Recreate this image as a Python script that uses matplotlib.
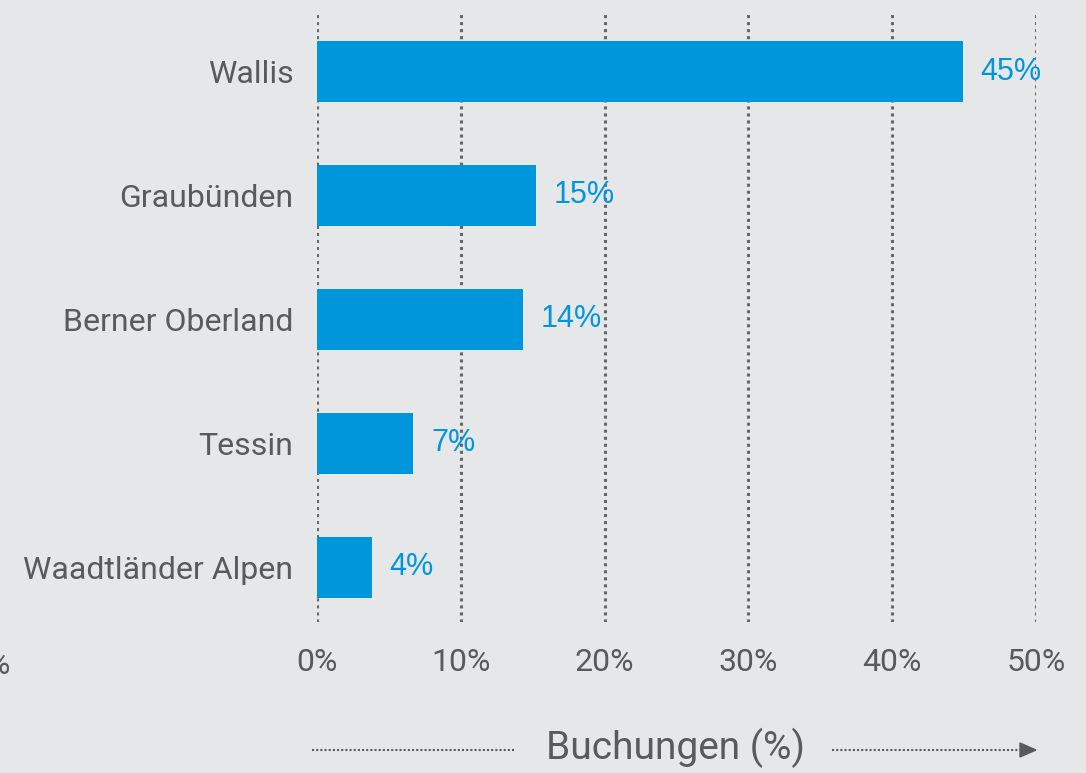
import matplotlib
matplotlib.use("Agg")
import matplotlib.pyplot as plt

regions = ["Wallis", "Graubünden", "Berner Oberland", "Tessin", "Waadtländer Alpen"]
values = [44.9, 15.2, 14.3, 6.7, 3.8]
labels = ["45%", "15%", "14%", "7%", "4%"]
xticks = [0, 10, 20, 30, 40, 50]
xticklabels = ["0%", "10%", "20%", "30%", "40%", "50%"]

BG = "#e6e7e9"
BAR = "#0096dc"
GREY = "#5a5a5a"

W, H = 1086, 773
fig = plt.figure(figsize=(W / 100, H / 100), dpi=100, facecolor=BG)
ax = fig.add_axes([317 / W, 1 - 622 / H, (1036 - 317) / W, (622 - 12) / H])
ax.set_facecolor(BG)

ypos = list(range(len(regions)))
ax.barh(ypos, values, height=0.49, color=BAR, zorder=2)
ax.set_ylim(len(regions) - 1 + 0.44, -0.48)
ax.set_xlim(0, 50)

for y, v, lab in zip(ypos, values, labels):
    ax.text(v + 1.25, y, lab, color=BAR, fontsize=22, va="center", ha="left",
            family="Liberation Sans", zorder=3)

ax.set_yticks(ypos)
ax.set_yticklabels(regions, fontsize=23, color=GREY, family="Roboto")
ax.set_xticks(xticks)
ax.set_xticklabels(xticklabels, fontsize=23, color=GREY, family="Roboto")
ax.tick_params(axis="both", length=0)
ax.tick_params(axis="y", pad=17)
ax.tick_params(axis="x", pad=19)
for s in ax.spines.values():
    s.set_visible(False)
for x in xticks:
    ax.axvline(x, color="#666666", lw=2.2, ls=(0, (1, 1.3)), zorder=1)

# clipped label fragment at the far left edge (as in the reference)
fig.text(-14 / W, 1 - 665 / H, "%", fontsize=23, color=GREY, family="Roboto", va="center", ha="left")

# axis title with dotted arrow lines
fig.text(676 / W, 1 - 748 / H, "Buchungen (%)", fontsize=28, color=GREY,
         family="Roboto", ha="center", va="center")
fig.add_artist(plt.Line2D([312 / W, 515 / W], [1 - 750 / H, 1 - 750 / H],
                          transform=fig.transFigure, color=GREY, lw=1.5, ls=(0, (1, 1))))
fig.add_artist(plt.Line2D([832 / W, 1022 / W], [1 - 750 / H, 1 - 750 / H],
                          transform=fig.transFigure, color=GREY, lw=1.5, ls=(0, (1, 1))))
fig.add_artist(plt.Polygon([[1020 / W, 1 - 743 / H], [1020 / W, 1 - 757 / H], [1036 / W, 1 - 750 / H]],
                           closed=True, transform=fig.transFigure, color=GREY))

fig.savefig("out.png", dpi=100, facecolor=BG)
